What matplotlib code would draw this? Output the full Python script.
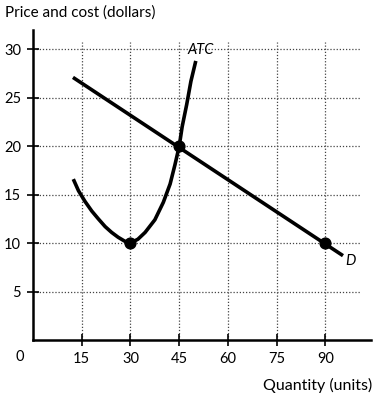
import numpy as np
from matplotlib import pyplot as plt

# Data
x_ticks = [15, 30, 45, 60, 75, 90]
y_ticks = [5, 10, 15, 20, 25, 30]

# demand line end points
d_q = [12.3, 95.4]
d_p = [27.1, 8.7]

# average total cost curve
atc_q = [12.4, 14.0, 16.0, 18.1, 20.1, 22.2, 24.2, 26.2, 28.2, 30.0,
         32.3, 34.5, 37.5, 40.1, 42.2, 43.7, 45.0, 45.9, 47.3, 48.6, 50.1]
atc_p = [16.6, 15.4, 14.3, 13.3, 12.5, 11.7, 11.1, 10.6, 10.2, 10.0,
         10.4, 11.1, 12.4, 14.2, 16.1, 18.1, 20.0, 22.0, 24.3, 26.7, 28.8]

# marked points
dot_q = [30, 45, 90]
dot_p = [10, 20, 10]

plt.rcParams['font.family'] = ['Lato', 'DejaVu Sans']

fig = plt.figure(figsize=(3.78, 3.99), dpi=100)
ax = fig.add_axes([0.0873, 0.148, 0.894, 0.777])

ax.set_xlim(0, 104)
ax.set_ylim(0, 32)

# dotted grid
ax.hlines(y_ticks, 0, 101, colors='#444444', linestyles=(0, (1, 1.5)), linewidth=0.9, zorder=1)
ax.vlines(x_ticks, 0, 30.8, colors='#444444', linestyles=(0, (1, 1.5)), linewidth=0.9, zorder=1)

ax.plot(d_q, d_p, color='black', linewidth=2.6, solid_capstyle='butt', zorder=3)
ax.plot(atc_q, atc_p, color='black', linewidth=2.6, solid_capstyle='butt',
        solid_joinstyle='round', zorder=3)
ax.scatter(dot_q, dot_p, s=60, color='black', zorder=4)

ax.text(51.5, 29.9, 'ATC', fontsize=10.5, style='italic', ha='center', va='center')
ax.text(97.6, 8.1, 'D', fontsize=10.5, style='italic', ha='center', va='center')

for side in ['top', 'right']:
    ax.spines[side].set_visible(False)
ax.spines['left'].set_linewidth(1.8)
ax.spines['bottom'].set_linewidth(1.8)

ax.set_xticks(x_ticks)
ax.set_yticks(y_ticks)
ax.set_xticklabels([str(v) for v in x_ticks], fontsize=10.5)
ax.set_yticklabels([str(v) for v in y_ticks], fontsize=10.5)
ax.tick_params(direction='inout', length=9, width=1.2, pad=4)

# origin label
ax.text(-4, -1.8, '0', fontsize=10.5, ha='center', va='center', transform=ax.transData, clip_on=False)

fig.text(0.013, 0.968, 'Price and cost (dollars)', fontsize=11, ha='left', va='center')
fig.text(0.985, 0.033, 'Quantity (units)', fontsize=11.5, ha='right', va='center')

plt.savefig('out.png', dpi=100)
